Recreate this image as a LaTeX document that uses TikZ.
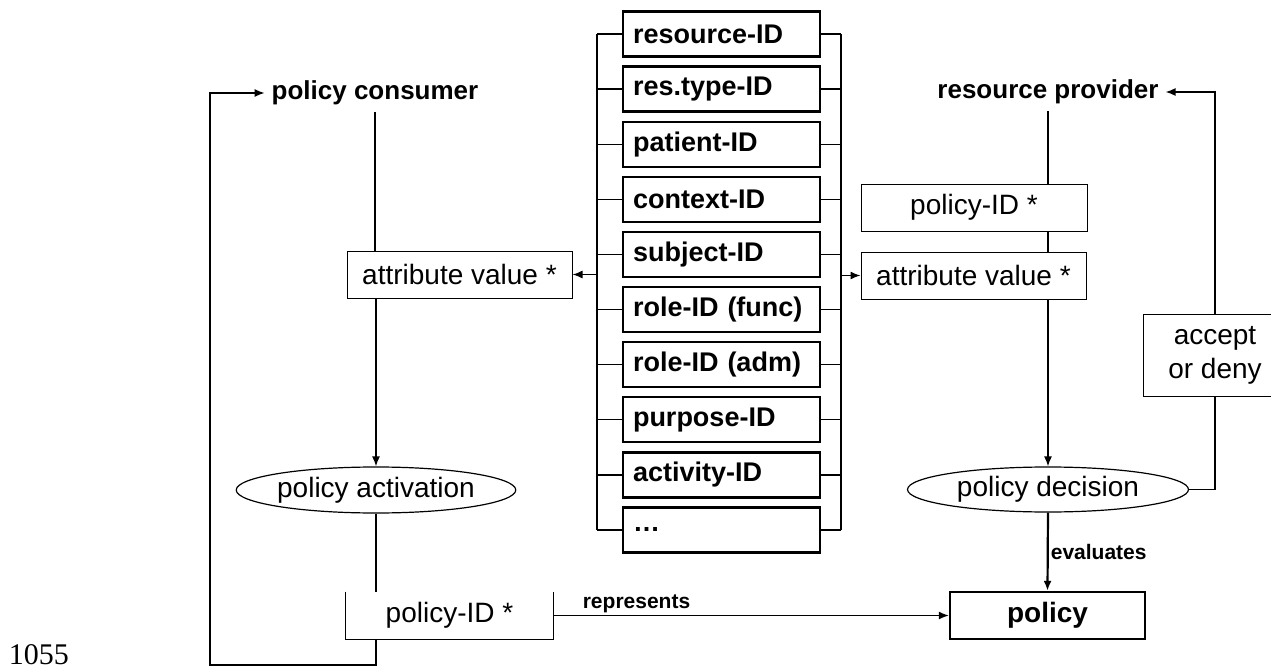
\documentclass[tikz,border=0pt]{standalone}
\usepackage{fontspec}
\setmainfont{Liberation Sans}
\newfontfamily\pagenofont{Liberation Serif}
\usepackage{tikz}
\usetikzlibrary{shapes.geometric}
\usetikzlibrary{arrows.meta}
\usetikzlibrary{positioning}
\tikzset{idbox/.style={draw, line width=1.2pt, minimum height=22.5pt, text width=88.5pt, inner xsep=5pt, align=left, font=\bfseries\fontsize{13.5}{16}\selectfont}}
\tikzset{valbox/.style={draw, line width=0.5pt, minimum height=23.5pt, inner sep=0pt, font=\fontsize{14}{17}\selectfont}}
\tikzset{party/.style={font=\bfseries\fontsize{13}{16}\selectfont}}
\tikzset{procoval/.style={draw, ellipse, line width=0.6pt, inner sep=0pt, font=\fontsize{14}{17}\selectfont}}
\tikzset{conn/.style={line width=0.7pt}}
\tikzset{bus/.style={line width=0.9pt}}
\tikzset{arr/.style={conn, -{Latex[length=5pt,width=4pt]}}}
\tikzset{smalllabel/.style={font=\bfseries\fontsize{10.5}{12}\selectfont, inner sep=1pt}}

\begin{document}
\begin{tikzpicture}[x=0.5pt,y=-0.5pt]
{
\useasboundingbox (0,0) rectangle (1271,669);
% attribute stack
\foreach \lbl [count=\i] in {resource-ID, res.type-ID, patient-ID, context-ID, subject-ID, role-ID (func), role-ID (adm), purpose-ID, activity-ID, \dots}
  \node[idbox] (id\i) at (721.5,{34+55.1*(\i-1)}) {\lbl};
\foreach \i in {1,...,10} {
  \draw[conn] (id\i.west) -- ++(-25,0);
  \draw[conn] (id\i.east) -- ++(20,0);
}
\draw[bus] ([xshift=-12.5pt]id1.west) -- ([xshift=-12.5pt]id10.west);
\draw[bus] ([xshift=10pt]id1.east) -- ([xshift=10pt]id10.east);
\coordinate (lbus) at (598,274.5);
\coordinate (rbus) at (840,275.5);

% consumer side
\node[party] (consumer) at (375,93) {policy consumer};
\node[valbox, minimum width=112.5pt] (attrL) at (459.5,274.5) {attribute value *};
\node[procoval, minimum width=139pt, minimum height=23pt] (activ) at (376,490) {policy activation};
\node[valbox, draw=none, minimum width=103.5pt] (pidL) at (449.5,615.5) {policy-ID *};
\draw[line width=0.6pt] (pidL.north west) -- (pidL.south west) -- (pidL.south east) -- (pidL.north east);

% provider side
\node[party] (provider) at (1048,92) {resource provider};
\node[valbox, minimum width=113pt] (pidR) at (974,207.5) {policy-ID *};
\node[valbox, minimum width=112.5pt] (attrR) at (973.5,275.5) {attribute value *};
\node[procoval, minimum width=140.5pt, minimum height=22.5pt] (decis) at (1048,489.5) {policy decision};
\node[valbox, minimum width=72pt, minimum height=41pt, align=center] (accept) at (1215,355) {accept\\or deny};
\node[valbox, line width=1.2pt, minimum width=97.5pt, font=\bfseries\fontsize{14}{17}\selectfont] (policy) at (1047.5,615.5) {policy};

\node[font=\pagenofont\fontsize{15}{18}\selectfont] (pageno) at (39,655) {1055};

\draw[arr] (lbus) -- (attrL.east);
\draw[arr] (rbus) -- (attrR.west);

\draw[conn] (consumer.south) -- (consumer.south |- attrL.north);
\draw[arr] (attrL.south -| activ) -- (activ.north);
\draw[conn] (activ.south) -- (activ.south |- pidL.north);
\coordinate (loopL) at (210,665);
\draw[arr] (pidL.south -| activ) |- (loopL) |- (consumer.west);

\draw[conn] (provider.south) -- (provider.south |- pidR.north);
\draw[conn] (pidR.south -| provider) -- (attrR.north -| provider);
\draw[arr] (attrR.south -| provider) -- (decis.north);
\draw[conn] (decis.east) -| (accept.south);
\draw[arr] (accept.north) |- (provider.east);

\draw[line width=1.1pt, -{Latex[length=5pt,width=4pt]}] (decis.south) -- node[right, smalllabel] {evaluates} (policy.north);
\draw[arr] (pidL.east) -- node[pos=0.21, above, smalllabel] {represents} (policy.west);
}
\end{tikzpicture}
\end{document}
